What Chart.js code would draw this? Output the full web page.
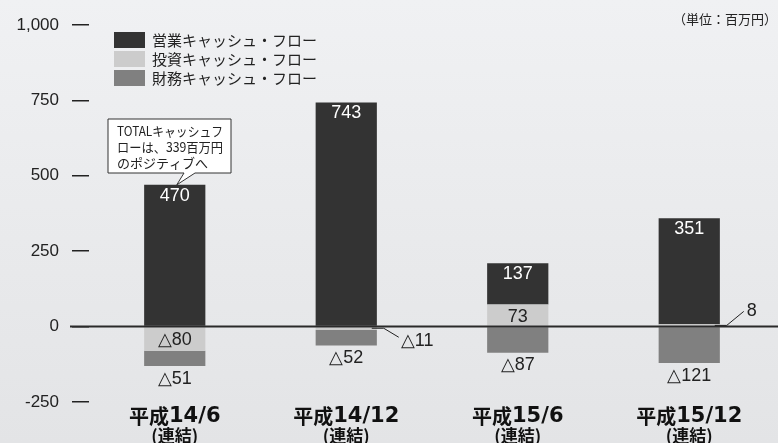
<!DOCTYPE html>
<html>
<head>
<meta charset="utf-8">
<script src="https://cdn.jsdelivr.net/npm/chart.js@4.4.0/dist/chart.umd.min.js"></script>
<style>
  html, body { margin: 0; padding: 0; }
  body {
    width: 778px; height: 443px; overflow: hidden;
    background: linear-gradient(to bottom, #f0f1f3, #e3e4e6);
  }
  #wrap { position: relative; width: 778px; height: 443px; }
</style>
</head>
<body>
<div id="wrap"><canvas id="myChart" width="778" height="443"></canvas></div>
<script>
const categories = ["平成14/6", "平成14/12", "平成15/6", "平成15/12"];
const subLabel = "(連結)";
const operating = [470, 743, 137, 351];
const investing = [-80, -11, 73, 8];
const financing = [-51, -52, -87, -121];
const seriesNames = ["営業キャッシュ・フロー", "投資キャッシュ・フロー", "財務キャッシュ・フロー"];
const yTicks = [-250, 0, 250, 500, 750, 1000];
const unitText = "（単位：百万円）";
const noteLines = ["TOTALキャッシュフ", "ローは、339百万円", "のポジティブへ"];

const NUM_FONT = '"Liberation Sans", Arial, sans-serif';
const JP_FONT = '"Noto Sans CJK JP", "Liberation Sans", sans-serif';
const CAT_NUM_FONT = '"DejaVu Sans", sans-serif';

function fmt(v) {
	return v < 0 ? "△" + Math.abs(v) : String(v);
}

// "平成" in the CJK font, the date part in a wider latin font
function drawCategory(ctx, text, cx, cy) {
	const k = text.search(/\d/);
	const jp = text.slice(0, k);
	const num = text.slice(k);
	ctx.font = "bold 20px " + JP_FONT;
	const w1 = ctx.measureText(jp).width;
	ctx.font = "bold 21px " + CAT_NUM_FONT;
	const w2 = ctx.measureText(num).width;
	const left = cx - (w1 + w2) / 2;
	ctx.textAlign = "left";
	ctx.font = "bold 20px " + JP_FONT;
	ctx.fillText(jp, left, cy);
	ctx.font = "bold 21px " + CAT_NUM_FONT;
	ctx.fillText(num, left + w1, cy + 1);
	ctx.textAlign = "center";
}

// everything drawn on top of the bars: labels, zero line, legend, note
const overlay = {
	id: "overlay",
	afterDatasetsDraw(chart) {
		const ctx = chart.ctx;
		const x = chart.scales.x;
		const y = chart.scales.y;
		const y0 = y.getPixelForValue(0);
		const half = 30.5;

		ctx.save();
		// zero line
		ctx.strokeStyle = "#2a2a2a";
		ctx.lineWidth = 2;
		ctx.beginPath();
		ctx.moveTo(70, y0);
		ctx.lineTo(chart.width, y0);
		ctx.stroke();

		ctx.textAlign = "center";
		ctx.textBaseline = "middle";

		categories.forEach((c, i) => {
			const cx = x.getPixelForValue(i);
			const inv = investing[i];
			const op = operating[i];
			const fin = financing[i];
			const posBase = inv > 0 ? inv : 0;
			const negBase = inv < 0 ? inv : 0;
			ctx.font = "18px " + NUM_FONT;

			// operating label inside top
			ctx.fillStyle = "#fff";
			ctx.fillText(fmt(op), cx, y.getPixelForValue(posBase + op) + 11);

			// investing label
			ctx.fillStyle = "#222";
			if (Math.abs(inv) >= 30) {
				ctx.fillText(fmt(inv), cx, (y.getPixelForValue(inv) + y0) / 2 + 1);
			} else {
				const ys = y.getPixelForValue(inv / 2);
				const xr = cx + half;
				ctx.strokeStyle = "#222";
				ctx.lineWidth = 1;
				ctx.beginPath();
				ctx.moveTo(xr - 5, ys);
				ctx.lineTo(xr + 7, ys);
				if (inv < 0) {
					ctx.lineTo(xr + 22, ys + 9);
				} else {
					ctx.lineTo(xr + 24, ys - 14);
				}
				ctx.stroke();
				ctx.textAlign = "left";
				ctx.fillText(fmt(inv), xr + (inv < 0 ? 24 : 27), inv < 0 ? ys + 13 : ys - 14);
				ctx.textAlign = "center";
			}

			// financing label under bar
			ctx.fillText(fmt(fin), cx, y.getPixelForValue(negBase + fin) + 12.5);

			// category labels
			ctx.fillStyle = "#111";
			drawCategory(ctx, c, cx, 416);
			ctx.font = "bold 17px " + JP_FONT;
			ctx.fillText(subLabel, cx, 436);
		});

		// legend
		const order = [1, 0, 2];
		ctx.textAlign = "left";
		ctx.font = "15px " + JP_FONT;
		order.forEach((d, k) => {
			const ds = chart.data.datasets[d];
			const top = 32 + k * 19;
			ctx.fillStyle = ds.backgroundColor;
			ctx.fillRect(114, top, 31, 16);
			ctx.fillStyle = "#222";
			ctx.fillText(ds.label, 152, top + 8.5);
		});

		// unit
		ctx.textAlign = "right";
		ctx.font = "13px " + JP_FONT;
		ctx.fillText(unitText, 777, 19);

		// speech box
		const bx = 108, by = 119, bw = 123, bh = 54;
		const tipX = x.getPixelForValue(0) + 2;
		const tipY = y.getPixelForValue(operating[0]);
		ctx.fillStyle = "#fff";
		ctx.strokeStyle = "#333";
		ctx.lineWidth = 1;
		ctx.beginPath();
		ctx.moveTo(bx, by);
		ctx.lineTo(bx + bw, by);
		ctx.lineTo(bx + bw, by + bh);
		ctx.lineTo(195, by + bh);
		ctx.lineTo(tipX, tipY);
		ctx.lineTo(184, by + bh);
		ctx.lineTo(bx, by + bh);
		ctx.closePath();
		ctx.fill();
		ctx.stroke();
		ctx.fillStyle = "#222";
		ctx.textAlign = "left";
		ctx.font = "13px " + JP_FONT;
		noteLines.forEach((t, k) => {
			const w = ctx.measureText(t).width;
			const sx = Math.min(1, 106 / w);
			ctx.save();
			ctx.translate(117, 131 + k * 16);
			ctx.scale(sx, 1);
			ctx.fillText(t, 0, 0);
			ctx.restore();
		});
		ctx.restore();
	},
};

const ctx = document.getElementById("myChart");

new Chart(ctx, {
	type: "bar",
	data: {
		labels: categories,
		datasets: [
			{ label: seriesNames[1], data: investing, backgroundColor: "#cccccc" },
			{ label: seriesNames[0], data: operating, backgroundColor: "#333333" },
			{ label: seriesNames[2], data: financing, backgroundColor: "#808080" },
		],
	},
	options: {
		responsive: false,
		animation: false,
		devicePixelRatio: 1,
		layout: { padding: { top: 25, bottom: 41, right: 3, left: 0 } },
		datasets: { bar: { categoryPercentage: 0.357, barPercentage: 1 } },
		scales: {
			x: {
				stacked: true,
				display: false,
			},
			y: {
				stacked: true,
				min: -250,
				max: 1000,
				afterBuildTicks(scale) {
					scale.ticks = yTicks.map((v) => ({ value: v }));
				},
				afterFit(scale) {
					scale.width = 89;
				},
				border: { display: false },
				grid: {
					drawOnChartArea: false,
					drawTicks: true,
					tickLength: 17,
					color: "#222",
					lineWidth: 1.5,
				},
				ticks: {
					padding: 13,
					color: "#222",
					font: { family: NUM_FONT, size: 17 },
					callback: (v) => v.toLocaleString("en-US"),
				},
			},
		},
		plugins: {
			legend: { display: false },
			tooltip: { enabled: false },
		},
	},
	plugins: [overlay],
});
</script>
</body>
</html>
